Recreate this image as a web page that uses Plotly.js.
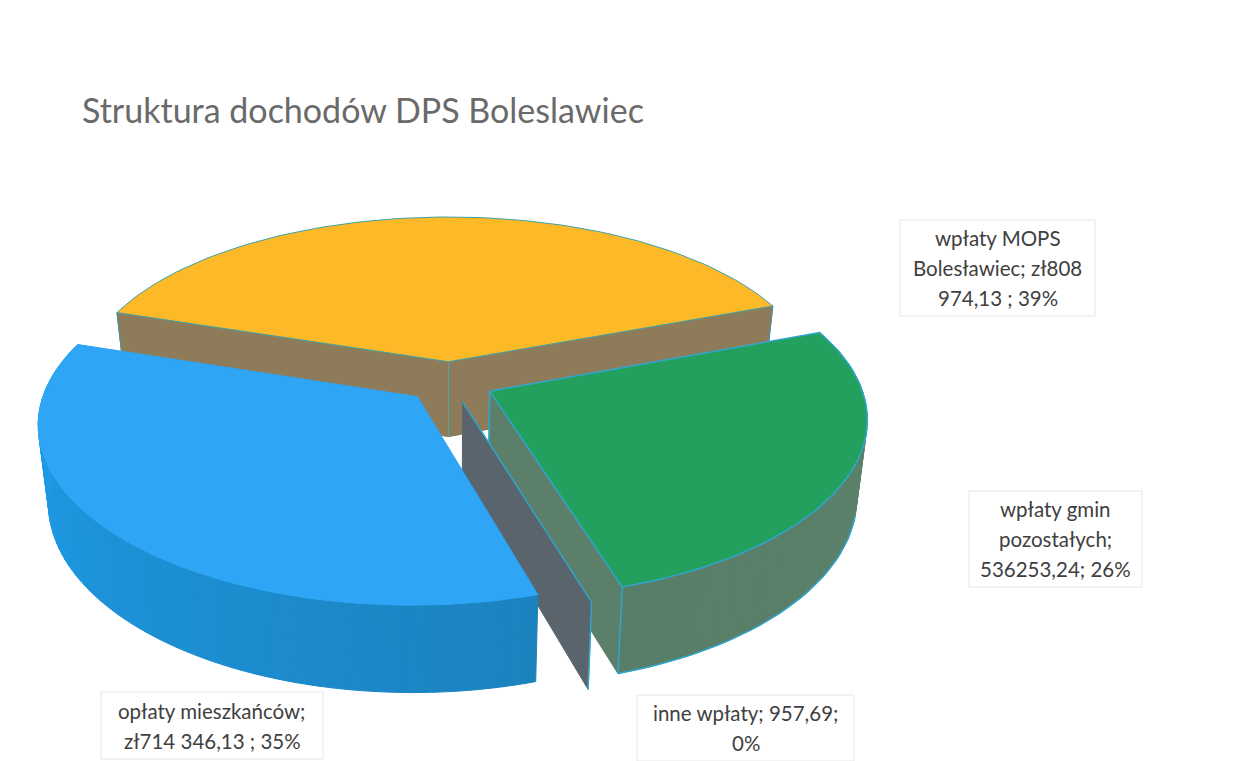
<!DOCTYPE html>
<html><head><meta charset="utf-8">
<script src="https://cdn.plot.ly/plotly-3.0.1.min.js"></script>
<style>html,body{margin:0;padding:0;background:#fff}#c{width:1250px;height:761px}</style>
</head><body><div id="c"></div>
<script>
// ---- data ----
const categories = ["wpłaty MOPS Bolesławiec", "wpłaty gmin pozostałych", "inne wpłaty", "opłaty mieszkańców"];
const values = [808974.13, 536253.24, 957.69, 714346.13];
const labelLines = [
  ["wpłaty MOPS", "Bolesławiec; zł808", "974,13 ; 39%"],
  ["wpłaty gmin", "pozostałych;", "536253,24; 26%"],
  ["inne wpłaty; 957,69;", "0%"],
  ["opłaty mieszkańców;", "zł714 346,13 ; 35%"]
];
const titleText = "Struktura dochodów DPS Boleslawiec";

// ---- view of the 3-D pie ----
const view = {cx:449.5, cy:382, S:370, A:172.2, H:76, Dx:7, Dy:6.63, Dh:8.3, explode:0.12, start:-72, taper:0.025};
const total = values.reduce((a,b)=>a+b,0);
let acc = view.start;
const slices = values.map(v=>{const a0=acc; acc+=v/total*360; return {a0,a1:acc,m:(a0+acc)/2};});
const rad = d=>d*Math.PI/180;
function P(s,ang,r,z){
  const x=r*Math.sin(rad(ang))+view.explode*Math.sin(rad(s.m));
  const y=-r*Math.cos(rad(ang))-view.explode*Math.cos(rad(s.m));
  const fx=view.Dx/(view.Dx-y), fy=view.Dy/(view.Dy-y), fh=view.Dh/(view.Dh-y);
  return [view.cx+view.S*x*fx*(1-view.taper*z), view.cy+view.A*y*fy+z*view.H*fh];
}
function arc(s,a,b,z){const n=Math.max(2,Math.ceil(Math.abs(b-a)/1.5));const o=[];for(let i=0;i<=n;i++)o.push(P(s,a+(b-a)*i/n,1,z));return o;}
const traces=[];
function poly(pts,fill,line,w,name){
  const c=pts.concat([pts[0]]);
  traces.push({type:"scatter",mode:"lines",x:c.map(p=>p[0]),y:c.map(p=>p[1]),fill:"toself",fillcolor:fill,
    line:{color:line||fill,width:w===undefined?1:w},hoverinfo:"skip",showlegend:false,name:name||""});
}
function edge(pts,color,w){
  traces.push({type:"scatter",mode:"lines",x:pts.map(p=>p[0]),y:pts.map(p=>p[1]),line:{color,width:w},hoverinfo:"skip",showlegend:false});
}
function mix(a,b,t){return "rgb("+a.map((v,i)=>Math.round(v+(b[i]-v)*t)).join(",")+")";}
function wall(s,a,b,c0,c1,n){
  for(let i=0;i<n;i++){
    const p=a+(b-a)*i/n,q=a+(b-a)*(i+1)/n;
    poly(arc(s,p,q,0).concat(arc(s,q,p,1)),mix(c0,c1,(i+.5)/n));
  }
}
const [yel,grn,oth,blu]=slices;
const EDGE="#2fa6cf";
// yellow
const yBrown="#8e7b59";
poly([P(yel,0,0,0),P(yel,0,0,1),P(yel,yel.a0,1,1),P(yel,yel.a0,1,0)],yBrown);
poly([P(yel,0,0,0),P(yel,0,0,1),P(yel,yel.a1,1,1),P(yel,yel.a1,1,0)],yBrown);
edge([P(yel,0,0,0),P(yel,0,0,1)],"#4ea5a8",1);
edge([P(yel,yel.a0,1,0),P(yel,yel.a0,1,1)],"#3f97a5",1);
edge([P(yel,yel.a1,1,0),P(yel,yel.a1,1,1)],"#3f97a5",1);
poly([P(yel,0,0,0)].concat(arc(yel,yel.a0,yel.a1,0)),"#fdb927","#3ea3a6",1,categories[0]);
// green
wall(grn,grn.a1,grn.a0,[88,126,104],[92,130,108],40);
poly([P(grn,0,0,0),P(grn,0,0,1),P(grn,grn.a1,1,1),P(grn,grn.a1,1,0)],"#5b7f69");
edge([P(grn,grn.a1,1,0),P(grn,grn.a1,1,1)],EDGE,1.5);
edge([P(grn,0,0,0),P(grn,0,0,1)],EDGE,1.5);
edge(arc(grn,grn.a1,grn.a0+35,1),EDGE,1.5);
poly([P(grn,0,0,0)].concat(arc(grn,grn.a0,grn.a1,0)),"#23a05e",EDGE,1.5,categories[1]);
// inne wpłaty
poly([P(oth,0,0,0),P(oth,0,0,1),P(oth,oth.m,1,1),P(oth,oth.m,1,0)],"#5a646c",null,1,categories[2]);
edge([P(oth,0,0,0),P(oth,oth.m,1,0),P(oth,oth.m,1,1)],EDGE,1.5);
// blue
wall(blu,blu.a0,blu.a1,[27,130,190],[30,160,240],80);
poly([P(blu,0,0,0)].concat(arc(blu,blu.a0,blu.a1,0)),"#2ea5f5",null,1,categories[3]);

// ---- label boxes and text ----
const boxes=[[900,220,1095,316],[969,491,1142,587],[637,695,854,761],[101,692,323,759]];
const pitch=30, shapes=[], annotations=[];
labelLines.forEach((ls,i)=>{
  const b=boxes[i], xc=(b[0]+b[2])/2, yc=(b[1]+b[3])/2;
  shapes.push({type:"rect",xref:"x",yref:"y",x0:b[0],y0:b[1],x1:b[2],y1:b[3],line:{color:"#e6e6e6",width:1},fillcolor:"#fff",layer:"above"});
  ls.forEach((t,j)=>annotations.push({xref:"x",yref:"y",x:xc,y:yc+(j-(ls.length-1)/2)*pitch,text:t,showarrow:false,
    xanchor:"center",yanchor:"middle",font:{family:"Lato, sans-serif",size:20.5,color:"#404040"}}));
});
Plotly.newPlot("c",traces,{
  width:1250,height:761,margin:{l:0,r:0,t:0,b:0,pad:0},paper_bgcolor:"#fff",plot_bgcolor:"#fff",showlegend:false,
  title:{text:titleText,x:82/1250,xanchor:"left",y:1-111/761,yanchor:"middle",font:{family:"Lato, sans-serif",size:34,color:"#6a6a6a"}},
  xaxis:{range:[0,1250],visible:false,fixedrange:true},
  yaxis:{range:[761,0],visible:false,fixedrange:true},
  shapes,annotations
},{displayModeBar:false,staticPlot:true});
</script></body></html>
